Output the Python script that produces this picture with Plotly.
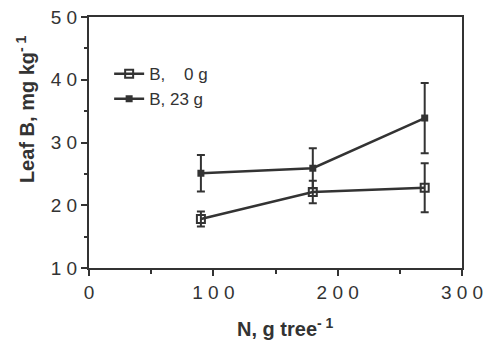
import plotly.graph_objects as go

n_rate = [90, 180, 270]
b0_vals = [17.8, 22.1, 22.8]
b0_err = [1.2, 1.8, 3.9]
b23_vals = [25.1, 25.9, 33.9]
b23_err = [2.9, 3.2, 5.6]
x_ticks = [0, 100, 200, 300]
x_labels = ["0", "1 0 0", "2 0 0", "3 0 0"]
y_ticks = [10, 20, 30, 40, 50]
y_labels = ["1 0", "2 0", "3 0", "4 0", "5 0"]

col = "#333333"
font = "Liberation Sans, Arial, Helvetica, sans-serif"

fig = go.Figure()
fig.add_trace(go.Scatter(
    x=n_rate, y=b0_vals, mode="lines+markers", name="B,\u00a0\u00a0\u00a0 0 g",
    line=dict(color=col, width=2.5),
    marker=dict(symbol="square-open", size=8, color=col, line=dict(width=2, color=col)),
    error_y=dict(type="data", array=b0_err, color=col, thickness=2, width=4),
))
fig.add_trace(go.Scatter(
    x=n_rate, y=b23_vals, mode="lines+markers", name="B, 23 g",
    line=dict(color=col, width=2.5),
    marker=dict(symbol="square", size=7, color=col),
    error_y=dict(type="data", array=b23_err, color=col, thickness=2, width=4),
))

# page body adds ~8px offset; margins compensate
fig.update_layout(
    width=502, height=355,
    margin=dict(l=81, r=48, t=9, b=95),
    paper_bgcolor="white", plot_bgcolor="white",
    font=dict(family=font, color=col, size=17),
    showlegend=True,
    legend=dict(x=0.054, y=0.844, xanchor="left", yanchor="top",
                bgcolor="rgba(0,0,0,0)", font=dict(size=17, color=col),
                itemwidth=30, tracegroupgap=0),
    xaxis=dict(range=[0, 300], tickvals=x_ticks, ticktext=x_labels,
               showgrid=False, zeroline=False, automargin=False,
               showline=True, linecolor=col, linewidth=2, mirror=True,
               ticks="outside", ticklen=6, tickwidth=2, tickcolor=col,
               minor=dict(dtick=50, ticks="outside", ticklen=4, tickwidth=2, tickcolor=col),
               tickfont=dict(size=19), ticklabelstandoff=0,
               ticklabeloverflow="allow"),
    yaxis=dict(range=[10, 50], tickvals=y_ticks, ticktext=y_labels,
               showgrid=False, zeroline=False, automargin=False,
               showline=True, linecolor=col, linewidth=2, mirror=True,
               ticks="outside", ticklen=6, tickwidth=2, tickcolor=col,
               minor=dict(dtick=5, ticks="outside", ticklen=3, tickwidth=2, tickcolor=col),
               tickfont=dict(size=19), ticklabelstandoff=0,
               ticklabeloverflow="allow"),
    annotations=[
        dict(text="<b>Leaf B, mg kg<sup>- 1</sup></b>", textangle=-90,
             xref="paper", yref="paper", x=-0.1716, y=0.633,
             xanchor="center", yanchor="middle", showarrow=False,
             font=dict(size=20, color=col)),
        dict(text="<b>N, g tree<sup>- 1</sup></b>",
             xref="paper", yref="paper", x=0.5255, y=-0.239,
             xanchor="center", yanchor="middle", showarrow=False,
             font=dict(size=20, color=col)),
    ],
)

fig.write_html("out.html")
